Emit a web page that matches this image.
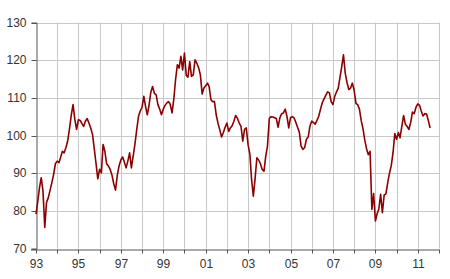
<!DOCTYPE html>
<html>
  <meta charset="utf-8" />
  <style>
    body {
      margin: 0;
      background: #fff;
    }
    .grid line {
      stroke: #c8c8c8;
      stroke-width: 1;
    }
    .axis text {
      font-family: "Liberation Sans", Arial, sans-serif;
      font-size: 12px;
      fill: #333;
    }
    .axis path,
    .axis line {
      stroke: #555;
    }
  </style>

  <body>
    <script src="https://d3js.org/d3.v7.min.js"></script>

    <script>
      let width = 450,
        height = 279;

      let margin = { top: 22.5, right: 11, bottom: 30.5, left: 36 };

      // monthly index, Jan 1993 .. Aug 2011
      let startYear = 1993;
      let v1993 = [79.1, 82.5, 86, 88.8, 85.3, 75.6, 82.2, 83.5, 85.5, 87.5, 89.7, 92.5];
      let v1994 = [93.2, 92.8, 94.2, 95.8, 95.4, 96.8, 98.6, 101.8, 105.5, 108.2, 104.2, 101.6];
      let v1995 = [104.2, 104, 103.2, 102.4, 103.8, 104.5, 103.3, 102, 100.3, 96.5, 92.5, 88.5];
      let v1996 = [91, 90.1, 97.6, 95.8, 92.5, 91.9, 91, 89.5, 87.2, 85.5, 89.5, 91.9];
      let v1997 = [93.5, 94.3, 93, 91.4, 93.2, 95.4, 91.4, 94.5, 97.8, 101.5, 105.1, 106.5];
      let v1998 = [107.5, 110.4, 107.8, 105.5, 108, 111.5, 113, 111.2, 110.8, 108.2, 107, 105.5];
      let v1999 = [107, 108, 108.6, 109, 108.3, 106, 109.5, 114.8, 118.8, 117.9, 121, 117.4];
      let v2000 = [121.9, 116, 115.5, 119.6, 115.7, 116.1, 120.1, 119.2, 118, 116.1, 111, 112.6];
      let v2001 = [113.2, 113.9, 113, 109.5, 109, 109, 105.5, 103.2, 101.5, 99.6, 100.8, 102.2];
      let v2002 = [103.3, 101.1, 102, 102.6, 103.8, 105.3, 104.6, 103.3, 102.4, 98.5, 101.6, 102];
      let v2003 = [97.5, 95, 88.5, 83.9, 88.5, 94.1, 93.5, 92.5, 91, 90.5, 94.5, 97.2];
      let v2004 = [104.5, 105, 104.9, 104.7, 104.5, 102.2, 104.7, 105.8, 106, 107, 105, 102];
      let v2005 = [104.8, 105, 104.7, 103.5, 102.2, 100.9, 97.2, 96.3, 96.8, 99, 99.6, 102.5];
      let v2006 = [103.8, 103.4, 103, 104, 105.1, 107, 108.7, 109.7, 110.7, 111.6, 111.3, 109];
      let v2007 = [108.2, 110.4, 111.5, 112.5, 115.3, 118.3, 121.4, 116.5, 114, 112.2, 112.6, 113.9];
      let v2008 = [112, 108.5, 108.2, 107, 104, 101.8, 98.9, 96.5, 94.9, 95.8, 80.4, 84.6];
      let v2009 = [77.3, 79.3, 80.5, 84.4, 79.5, 84.2, 84.5, 87.5, 90, 92, 95.5, 100.5];
      let v2010 = [99, 100.8, 99.4, 102.4, 105.3, 103, 102.4, 101.6, 103.5, 106.2, 105.8, 107.5];
      let v2011 = [108.4, 108, 106.5, 105.2, 105.8, 105.7, 104, 102];

      let values = [].concat(
        v1993, v1994, v1995, v1996, v1997, v1998, v1999, v2000, v2001, v2002,
        v2003, v2004, v2005, v2006, v2007, v2008, v2009, v2010, v2011
      );

      let data = values.map((v, i) => ({
        date: new Date(startYear, i, 1),
        value: v,
      }));

      let yTicks = [70, 80, 90, 100, 110, 120, 130];
      let gridYears = d3.range(1994, 2013);
      let labelYears = [1993, 1995, 1997, 1999, 2001, 2003, 2005, 2007, 2009, 2011];

      let svg = d3
        .select("body")
        .append("svg")
        .attr("width", width)
        .attr("height", height);

      let x = d3
        .scaleTime()
        .domain([new Date(1993, 0, 1), new Date(2012, 0, 1)])
        .range([margin.left, width - margin.right]);

      let y = d3
        .scaleLinear()
        .domain([70, 130])
        .range([height - margin.bottom, margin.top]);

      let px = (v) => Math.round(v) + 0.5;

      // grid
      let grid = svg.append("g").attr("class", "grid");

      grid
        .selectAll(".hgrid")
        .data(yTicks.filter((d) => d > 70))
        .join("line")
        .attr("class", "hgrid")
        .attr("x1", x.range()[0])
        .attr("x2", x.range()[1])
        .attr("y1", (d) => px(y(d)))
        .attr("y2", (d) => px(y(d)));

      grid
        .selectAll(".vgrid")
        .data(gridYears)
        .join("line")
        .attr("class", "vgrid")
        .attr("x1", (d) => px(x(new Date(d, 0, 1))))
        .attr("x2", (d) => px(x(new Date(d, 0, 1))))
        .attr("y1", y(130))
        .attr("y2", y(70));

      // axes
      let yAxis = d3
        .axisLeft(y)
        .tickValues(yTicks)
        .tickSize(5)
        .tickPadding(5)
        .tickFormat(d3.format("d"));

      svg
        .append("g")
        .attr("class", "axis")
        .attr("transform", "translate(" + px(margin.left) + ",0)")
        .call(yAxis)
        .call((g) => g.selectAll(".tick").attr("transform", (d) => "translate(0," + px(y(d)) + ")"));

      let xAxis = d3
        .axisBottom(x)
        .tickValues(d3.range(1993, 2013).map((d) => new Date(d, 0, 1)))
        .tickSize(4)
        .tickPadding(6)
        .tickFormat((d) => {
          let yr = d.getFullYear();
          return labelYears.includes(yr) ? String(yr).slice(2) : "";
        });

      svg
        .append("g")
        .attr("class", "axis")
        .attr("transform", "translate(0," + px(y(70)) + ")")
        .call(xAxis)
        .call((g) => g.select(".domain").attr("d", "M" + (margin.left - 5) + ",0.5H" + (width - margin.right)))
        .call((g) => g.selectAll(".tick").attr("transform", (d) => "translate(" + px(x(d)) + ",0)"));

      // series
      let line = d3
        .line()
        .x((d) => x(d.date))
        .y((d) => y(d.value));

      svg
        .append("path")
        .datum(data)
        .attr("fill", "none")
        .attr("stroke", "#8b0000")
        .attr("stroke-width", 1.6)
        .attr("stroke-linejoin", "round")
        .attr("d", line);
    </script>
  </body>
</html>
